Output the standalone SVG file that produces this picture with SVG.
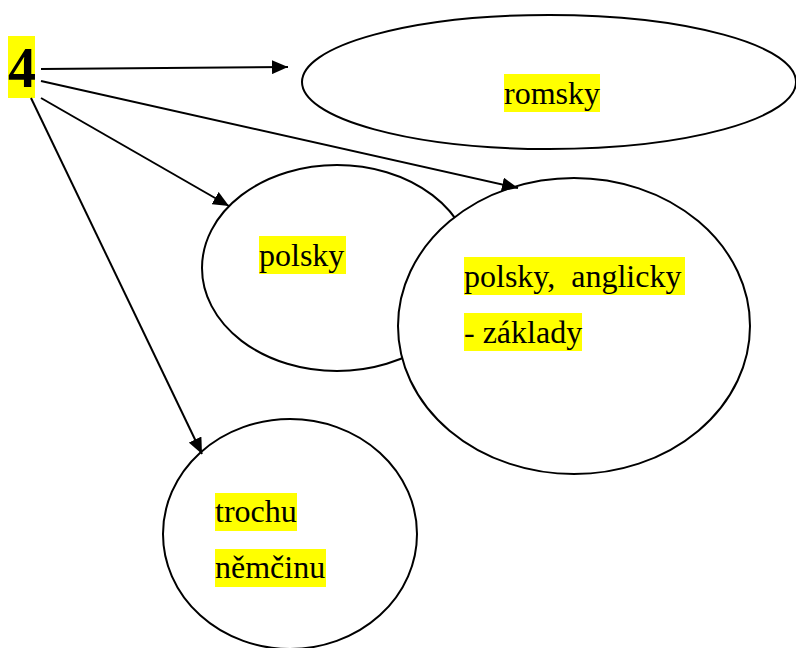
<svg xmlns="http://www.w3.org/2000/svg" width="796" height="648" viewBox="0 0 796 648">
<style>
.node ellipse{fill:#fff;stroke:#000;stroke-width:2}
.hl{fill:#ffff00}
.t{font-family:"Liberation Serif","Times New Roman",serif;font-size:32px;fill:#000}
.b{font-family:"Liberation Serif","Times New Roman",serif;font-size:56px;font-weight:bold;fill:#000}
.conn line{stroke:#000;stroke-width:2;marker-end:url(#ah)}
</style>
<defs>
<marker id="ah" viewBox="0 0 16 14" refX="16" refY="7" markerWidth="16" markerHeight="14" markerUnits="userSpaceOnUse" orient="auto">
<path d="M0,0 L16,7 L0,14 Z" fill="#000"/>
</marker>
</defs>
<rect width="796" height="648" fill="#fff"/>
<g id="n4">
<rect class="hl" x="8" y="36" width="27" height="62"/>
<text class="b" x="8" y="87">4</text>
</g>
<g id="romsky" class="node">
<ellipse cx="549" cy="82" rx="247" ry="67"/>
<rect class="hl" x="504" y="74" width="96" height="38"/>
<text class="t" x="504" y="104">romsky</text>
</g>
<g id="polsky" class="node">
<ellipse cx="337" cy="268" rx="135" ry="103"/>
<rect class="hl" x="259" y="236" width="87" height="38"/>
<text class="t" x="259" y="266">polsky</text>
</g>
<g id="polsky-anglicky" class="node">
<ellipse cx="574" cy="326" rx="176" ry="148"/>
<rect class="hl" x="464" y="257" width="221" height="38"/>
<text class="t" x="464" y="287" xml:space="preserve">polsky,  anglicky</text>
<rect class="hl" x="464" y="313" width="118" height="38"/>
<text class="t" x="464" y="343">- základy</text>
</g>
<g id="nemcinu" class="node">
<ellipse cx="290" cy="534" rx="127" ry="115"/>
<rect class="hl" x="215" y="493" width="82" height="38"/>
<text class="t" x="215" y="522">trochu</text>
<rect class="hl" x="215" y="549" width="111" height="38"/>
<text class="t" x="215" y="578">němčinu</text>
</g>
<g id="connectors" class="conn">
<line x1="41" y1="69" x2="288" y2="67"/>
<line x1="41" y1="81" x2="518" y2="188"/>
<line x1="41" y1="98" x2="229" y2="206"/>
<line x1="31" y1="98" x2="202" y2="454"/>
</g>
</svg>
